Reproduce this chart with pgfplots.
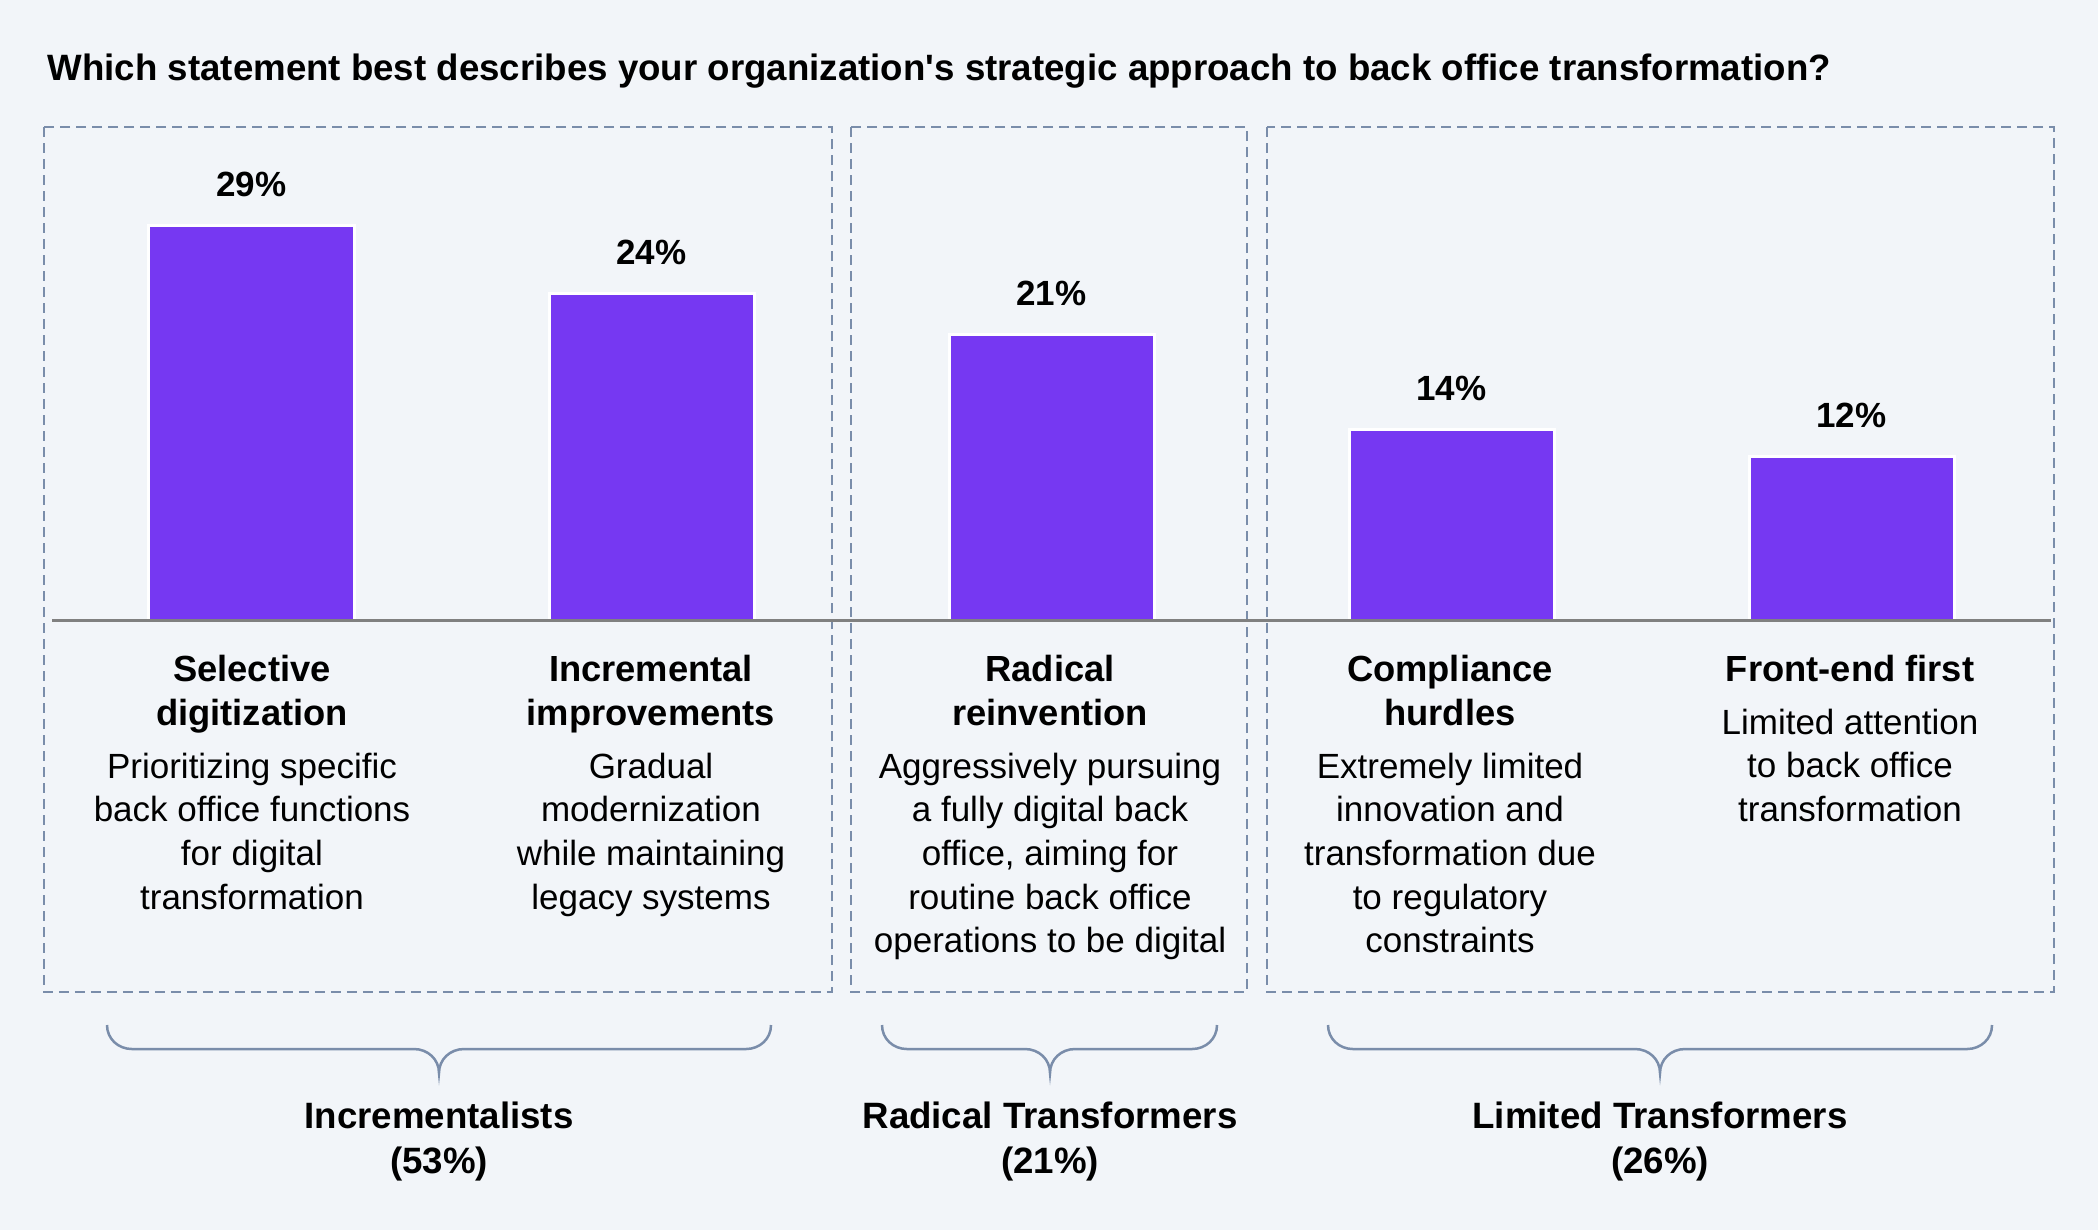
\documentclass[border=0pt]{standalone}
\usepackage{pgfplots}
\pgfplotsset{compat=1.18}
\usepackage{fontspec}
\setmainfont{Liberation Sans}
\definecolor{bgc}{HTML}{F2F5F9}
\definecolor{barc}{HTML}{7638F2}
\definecolor{slate}{HTML}{7A8DAA}
\definecolor{basec}{HTML}{808080}
\newcommand{\grpbrace}[3]{% x0, xc, x1
  \draw[slate, line width=0.75pt]
    (#1,1025) .. controls (#1,1038.8) and (#1+11.2,1049) .. (#1+25,1049)
    -- (#2-25,1049) .. controls (#2-11.2,1049) and (#2,1059.2) .. (#2,1073)
    .. controls (#2,1059.2) and (#2+11.2,1049) .. (#2+25,1049)
    -- (#3-25,1049) .. controls (#3-11.2,1049) and (#3,1038.8) .. (#3,1025);}
\begin{document}
\begin{tikzpicture}
\begin{scope}[x=0.3pt,y=-0.3pt]
\fill[bgc] (0,0) rectangle (2098,1230);
% title
\node[anchor=base west, inner sep=0pt, font=\fontsize{11}{13}\selectfont\bfseries] at (47,80)
  {Which statement best describes your organization\textquotesingle s strategic approach to back office transformation?};
% dashed boxes
\begin{scope}[slate, line width=0.6pt, dash pattern=on 3pt off 1.8pt]
\draw (44,127) rectangle (832,992);
\draw (851,127) rectangle (1247,992);
\draw (1267,127) rectangle (2054,992);
\end{scope}
\end{scope}

\begin{axis}[
  at={(15.75pt,-186pt)}, anchor=south west,
  scale only axis, width=599.4pt, height=142.8pt,
  xmin=-0.4975, xmax=4.4975, ymin=0, ymax=35,
  hide axis, clip=false,
  nodes near coords={\bfseries\pgfmathprintnumber[assume math mode=true]{\pgfplotspointmeta}\%},
  nodes near coords style={anchor=base, yshift=8.7pt, font=\fontsize{10.5}{12}\selectfont, text=black, inner sep=0pt},
]
\addplot[ybar, bar width=61.5pt, fill=barc, draw=white, line width=0.9pt]
  coordinates {(0,29) (1,24) (2,21) (3,14) (4,12)};
\draw[basec, line width=0.9pt] (axis cs:-0.4975,0) -- (axis cs:4.4975,0);
\end{axis}

\begin{scope}[x=0.3pt,y=-0.3pt]
% category labels
\tikzset{lab/.style={anchor=base, inner sep=0pt, font=\fontsize{10.5}{12}\selectfont},
         blab/.style={anchor=base, inner sep=0pt, font=\fontsize{10.9}{12}\selectfont\bfseries}}
\foreach \t [count=\i from 0] in {Selective, digitization}
  \node[blab] at (252,681+44*\i) {\t};
\foreach \t [count=\i from 0] in {Prioritizing specific, back office functions, for digital, transformation}
  \node[lab] at (252,778+43.7*\i) {\t};
\foreach \t [count=\i from 0] in {Incremental, improvements}
  \node[blab] at (651,681+44*\i) {\t};
\foreach \t [count=\i from 0] in {Gradual, modernization, while maintaining, legacy systems}
  \node[lab] at (651,778+43.7*\i) {\t};
\foreach \t [count=\i from 0] in {Radical, reinvention}
  \node[blab] at (1050,681+44*\i) {\t};
\foreach \t [count=\i from 0] in {Aggressively pursuing, a fully digital back, {office, aiming for}, routine back office, operations to be digital}
  \node[lab] at (1050,778+43.7*\i) {\t};
\foreach \t [count=\i from 0] in {Compliance, hurdles}
  \node[blab] at (1450,681+44*\i) {\t};
\foreach \t [count=\i from 0] in {Extremely limited, innovation and, transformation due, to regulatory, constraints}
  \node[lab] at (1450,778+43.7*\i) {\t};
\node[blab] at (1850,681) {Front-end first};
\foreach \t [count=\i from 0] in {Limited attention, to back office, transformation}
  \node[lab] at (1850,734+43.7*\i) {\t};
% braces
\grpbrace{107}{439}{771}
\grpbrace{882}{1050}{1217}
\grpbrace{1328}{1660}{1992}
% group labels
\tikzset{grp/.style={anchor=base, inner sep=0pt, font=\fontsize{11}{13}\selectfont\bfseries}}
\node[grp] at (439,1128) {Incrementalists};
\node[grp] at (439,1173) {(53\%)};
\node[grp] at (1050,1128) {Radical Transformers};
\node[grp] at (1050,1173) {(21\%)};
\node[grp] at (1660,1128) {Limited Transformers};
\node[grp] at (1660,1173) {(26\%)};
\end{scope}
\end{tikzpicture}
\end{document}
